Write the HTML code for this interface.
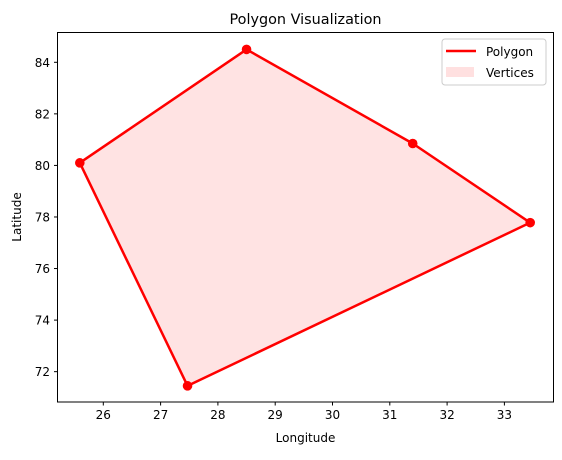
<!DOCTYPE html>
<html><head><meta charset="utf-8"><style>
body{margin:0;background:#fff;}
svg text{font-family:"DejaVu Sans","Liberation Sans",sans-serif;fill:#000;}
</style></head><body>
<svg id="chart" width="562" height="455" xmlns="http://www.w3.org/2000/svg">
<text x="305.5" y="24" font-size="14.4" text-anchor="middle">Polygon Visualization</text>
<g id="plot"></g>
<rect x="57.5" y="32.5" width="496" height="369.5" fill="none" stroke="#000" stroke-width="1"/>
<text x="305.5" y="442" font-size="12" text-anchor="middle">Longitude</text>
<text x="0" y="0" font-size="12" text-anchor="middle" transform="translate(21,217) rotate(-90)">Latitude</text>
<g>
<rect x="442" y="39" width="104" height="46" rx="3" fill="#fff" fill-opacity="0.8" stroke="#ccc"/>
<line x1="446" y1="51" x2="476" y2="51" stroke="red" stroke-width="2.5"/>
<text x="486" y="56" font-size="12">Polygon</text>
<rect x="446" y="67" width="28" height="10" fill="red" fill-opacity="0.12"/>
<text x="486" y="77" font-size="12">Vertices</text>
</g>
</svg>
<script>
const lons=[25.59,28.5,31.4,33.45,27.47];
const lats=[80.1,84.5,80.85,77.78,71.45];
const xTicks=[26,27,28,29,30,31,32,33];
const yTicks=[72,74,76,78,80,82,84];
const NS="http://www.w3.org/2000/svg";
const sx=v=>103.3+(v-26)*57.3;
const sy=v=>62.3+(84-v)*25.78;
const g=document.getElementById('plot');
function mk(t,a){const e=document.createElementNS(NS,t);for(const k in a)e.setAttribute(k,a[k]);g.appendChild(e);return e;}
const pts=lons.map((x,i)=>sx(x)+','+sy(lats[i])).join(' ');
const fill=mk('polygon',{points:pts,fill:'red','fill-opacity':0.11,stroke:'none'});


const line=mk('polygon',{points:pts,fill:'none',stroke:'red','stroke-width':2.5,'stroke-linejoin':'round'});


lons.forEach((x,i)=>{
  const c=mk('circle',{cx:sx(x),cy:sy(lats[i]),r:4.8,fill:'red'});
  
  
});
xTicks.forEach(v=>{
  const l=mk('line',{x1:sx(v),x2:sx(v),y1:402,y2:405.5,stroke:'#000'});
  
  
  const t=mk('text',{x:sx(v),y:419,'font-size':12,'text-anchor':'middle'});
  t.textContent=v;
  
  
});
yTicks.forEach(v=>{
  const l=mk('line',{x1:54,x2:57.5,y1:sy(v),y2:sy(v),stroke:'#000'});
  
  
  const t=mk('text',{x:50,y:sy(v)+4.5,'font-size':12,'text-anchor':'end'});
  t.textContent=v;
  
  
});
</script>
</body></html>
